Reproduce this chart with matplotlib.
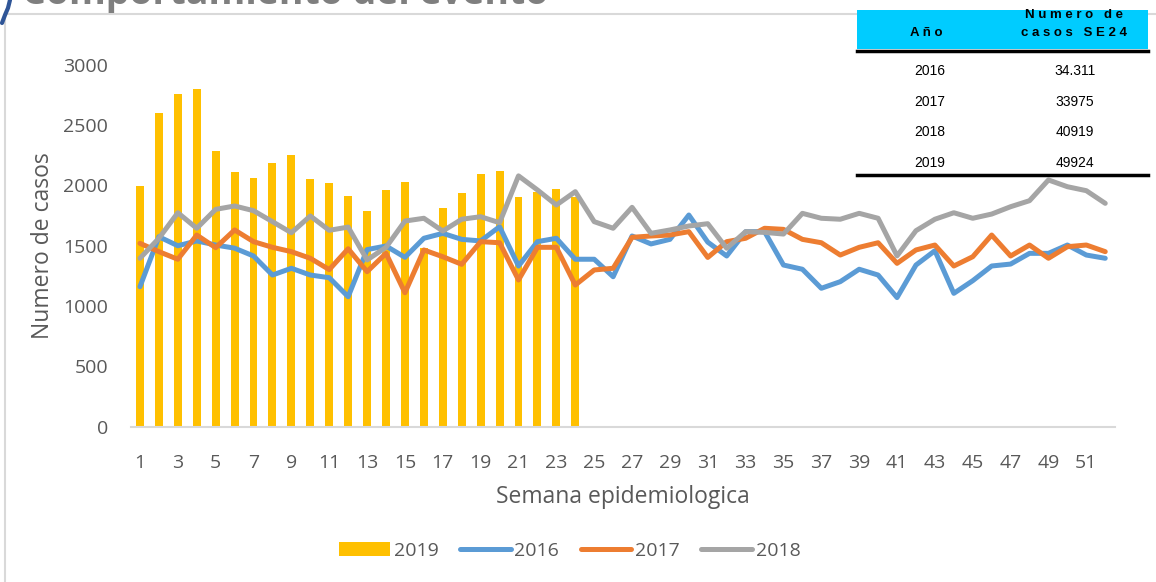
import matplotlib
matplotlib.use('Agg')
import matplotlib.pyplot as plt
from matplotlib.patches import Rectangle, Patch
from matplotlib.lines import Line2D

plt.rcParams['font.family'] = ['Open Sans', 'DejaVu Sans']

W, H = 1156, 582

weeks = list(range(1, 53))
weeks_2019 = list(range(1, 25))
casos_2019 = [2000, 2600, 2760, 2800, 2290, 2110, 2060, 2190, 2250, 2050, 2020, 1910,
              1790, 1960, 2025, 1480, 1810, 1940, 2095, 2120, 1905, 1950, 1970, 1905]
casos_2016 = [1160, 1575, 1500, 1540, 1506, 1480, 1415, 1257, 1313, 1257, 1235, 1077,
              1468, 1498, 1404, 1562, 1603, 1553, 1540, 1658, 1332, 1534, 1562, 1388,
              1388, 1243, 1581, 1515, 1553, 1755, 1530, 1415, 1617, 1617, 1340, 1305,
              1147, 1202, 1305, 1257, 1070, 1340, 1459, 1105, 1210, 1332, 1348, 1437,
              1437, 1506, 1423, 1396]
casos_2017 = [1520, 1451, 1388, 1589, 1484, 1631, 1534, 1487, 1451, 1396, 1302, 1475,
              1285, 1437, 1110, 1465, 1409, 1346, 1534, 1525, 1216, 1487, 1487, 1174,
              1299, 1313, 1570, 1581, 1589, 1617, 1403, 1534, 1562, 1645, 1636, 1553,
              1525, 1423, 1487, 1525, 1354, 1465, 1506, 1332, 1409, 1589, 1415, 1506,
              1396, 1492, 1506, 1451]
casos_2018 = [1396, 1562, 1774, 1645, 1802, 1830, 1791, 1700, 1608, 1747, 1628, 1655,
              1382, 1487, 1705, 1728, 1622, 1720, 1741, 1691, 2080, 1963, 1838, 1949,
              1700, 1645, 1819, 1603, 1631, 1664, 1683, 1479, 1617, 1611, 1597, 1769,
              1728, 1720, 1769, 1728, 1416, 1625, 1720, 1774, 1728, 1763, 1824, 1874,
              2046, 1990, 1957, 1852]

tabla_anios = ['2016', '2017', '2018', '2019']
tabla_casos = ['34.311', '33975', '40919', '49924']

C_2019 = '#FFC000'
C_2016 = '#5B9BD5'
C_2017 = '#ED7D31'
C_2018 = '#A5A5A5'
TXT = '#595959'


def fx(px):
    return px / W


def fy(py):
    return 1 - py / H


fig = plt.figure(figsize=(W / 100, H / 100), dpi=100)
fig.patch.set_facecolor('white')

# marco gris y fragmento de logo
fig.add_artist(Line2D([fx(5), fx(1156)], [fy(14), fy(14)], color='#D9D9D9', lw=1.5))
fig.add_artist(Line2D([fx(5), fx(5)], [fy(14), fy(582)], color='#D9D9D9', lw=1.5))
fig.add_artist(Line2D([fx(10), fx(8), fx(5), fx(2)], [fy(0), fy(8), fy(15), fy(23)],
                      color='#2F5597', lw=3, solid_capstyle='round'))

# titulo cortado arriba (asi aparece en la captura original)
fig.text(fx(22), fy(4), 'Comportamiento del evento', fontsize=27, fontweight='bold',
         color='#7F7F7F', va='baseline', ha='left')

ax = fig.add_axes([fx(130.5), fy(426.5), fx(1114.7) - fx(130.5), fy(65) - fy(426.5)])
ax.bar(weeks_2019, casos_2019, width=0.42, color=C_2019, zorder=2)
lkw = dict(lw=3.6, solid_joinstyle='round', solid_capstyle='round', zorder=3)
ax.plot(weeks, casos_2016, color=C_2016, **lkw)
ax.plot(weeks, casos_2017, color=C_2017, **lkw)
ax.plot(weeks, casos_2018, color=C_2018, **lkw)

ax.set_xlim(0.5, 52.5)
ax.set_ylim(0, 3000)
ax.set_yticks(range(0, 3001, 500))
ax.set_xticks(range(1, 53, 2))
ax.tick_params(length=0, labelsize=14, labelcolor=TXT)
ax.tick_params(axis='y', pad=16)
ax.tick_params(axis='x', pad=20)
for s in ['top', 'right', 'left']:
    ax.spines[s].set_visible(False)
ax.spines['bottom'].set_color('#D9D9D9')
ax.spines['bottom'].set_linewidth(1.5)
ax.set_xlabel('Semana epidemiologica', fontsize=16.5, color=TXT, labelpad=9)
ax.set_ylabel('Numero de casos', fontsize=16.5, color=TXT, labelpad=6)

# tabla arriba a la derecha
fig.add_artist(Rectangle((fx(857), fy(176)), fx(1148) - fx(857), fy(49) - fy(176),
                         transform=fig.transFigure, facecolor='white', edgecolor='none', zorder=5))
fig.add_artist(Rectangle((fx(857), fy(49)), fx(1148) - fx(857), fy(10) - fy(49),
                         transform=fig.transFigure, facecolor='#00CCFF', edgecolor='none', zorder=5))
fig.add_artist(Line2D([fx(857), fx(1148)], [fy(51), fy(51)], color='black', lw=2.5, zorder=6))
fig.add_artist(Line2D([fx(857), fx(1148)], [fy(174.5), fy(174.5)], color='black', lw=2.5, zorder=6))
hkw = dict(fontsize=9.5, fontweight='bold', ha='center', va='center', color='black',
           family=['Liberation Sans', 'DejaVu Sans'], zorder=7)
fig.text(fx(926), fy(33), 'A ñ o', **hkw)
fig.text(fx(1074), fy(14.5), 'N u m e r o   d e', **hkw)
fig.text(fx(1074), fy(33), 'c a s o s   S E 2 4', **hkw)
for i, (a, c) in enumerate(zip(tabla_anios, tabla_casos)):
    yy = 71 + i * 30.7
    fig.text(fx(930), fy(yy), a, fontsize=10, ha='center', va='center', color='black',
             family=['Liberation Sans', 'DejaVu Sans'], zorder=7)
    fig.text(fx(1075), fy(yy), c, fontsize=10, ha='center', va='center', color='black',
             family=['Liberation Sans', 'DejaVu Sans'], zorder=7)

# leyenda
handles = [Patch(facecolor=C_2019, edgecolor='none'),
           Line2D([], [], color=C_2016, lw=3.6, solid_capstyle='round'),
           Line2D([], [], color=C_2017, lw=3.6, solid_capstyle='round'),
           Line2D([], [], color=C_2018, lw=3.6, solid_capstyle='round')]
fig.legend(handles, ['2019', '2016', '2017', '2018'], loc='center', ncol=4,
           bbox_to_anchor=(fx(570), fy(551)), frameon=False, fontsize=14,
           handlelength=2.6, handletextpad=0.2, columnspacing=1.1, labelcolor=TXT)

fig.savefig('out.png', dpi=100, facecolor='white')
